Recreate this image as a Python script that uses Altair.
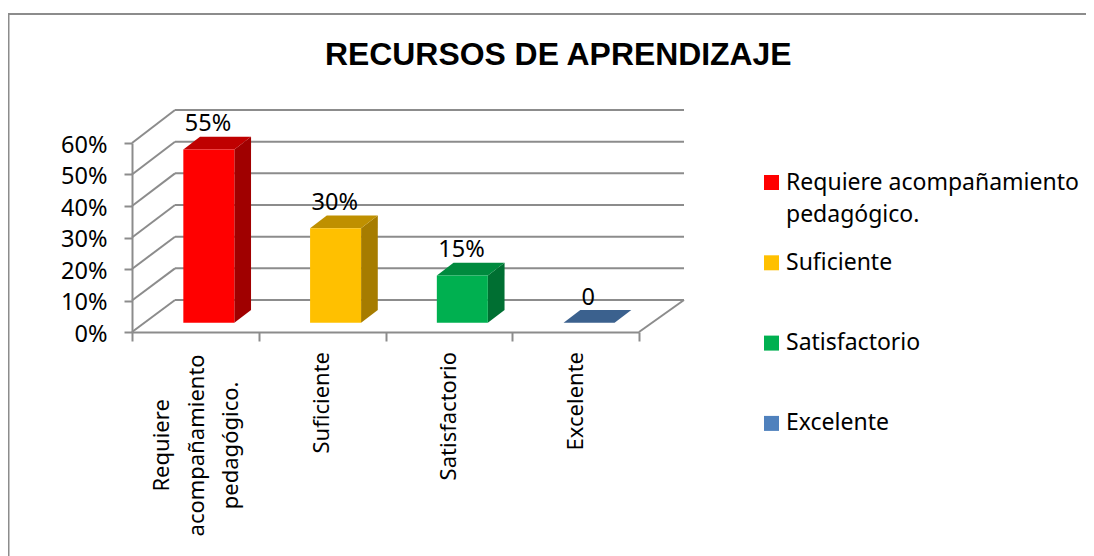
import altair as alt
import pandas as pd

categories = ["Requiere acompañamiento pedagógico.", "Suficiente", "Satisfactorio", "Excelente"]
values = [0.55, 0.30, 0.15, 0.0]
value_labels = ["55%", "30%", "15%", "0"]
front_colors = ["#FF0000", "#FFC000", "#00B050", "#4F81BD"]
side_colors = ["#A00000", "#A67C00", "#006F32", "#2F4D71"]
top_colors = ["#BF0000", "#BF9000", "#008A3E", "#3B618E"]
grid_values = [0, 0.1, 0.2, 0.3, 0.4, 0.5, 0.6]
axis_lines = [
    ["Requiere", "acompañamiento", "pedagógico."],
    ["Suficiente"],
    ["Satisfactorio"],
    ["Excelente"],
]

UX = 126.75   # px per category
UY = 315.0    # px per 1.0 of share
WALL_DX = 43 / UX
WALL_DX_R = 45 / UX
WALL_DY = 32 / UY
BAR_LEFT = 0.405
BAR_W = 51 / UX
BAR_FLOOR = 9.3 / UY
BAR_DX = 16.7 / UX
BAR_DY = 12.7 / UY
FONT = "Noto Sans"
TXT = 22
TXT_VAL = 23.5
TXT_LEG = 23
GREY = "#8C8C8C"

xs = alt.Scale(domain=[0, 4], nice=False, zero=False)
ys = alt.Scale(domain=[0, 0.6], nice=False, zero=False)
X = alt.X("x:Q", scale=xs, axis=alt.Axis(values=[0, 1, 2, 3, 4], labels=False, title=None, grid=False,
                                         tickColor=GREY, domainColor=GREY, tickWidth=2, domainWidth=2, tickSize=9))
Y = alt.Y("y:Q", scale=ys, axis=alt.Axis(values=grid_values, format=".0%", title=None, grid=False,
                                         tickColor=GREY, domainColor=GREY, tickWidth=2, domainWidth=2, tickSize=8,
                                         labelFont=FONT, labelFontSize=TXT_VAL, labelColor="black", labelPadding=17,
                                         labelOffset=2))

# walls
back = pd.DataFrame({"x": [WALL_DX] * 7, "x2": [4 + WALL_DX_R] * 7, "y": [v * 1.005 + WALL_DY for v in grid_values]})
grid = alt.Chart(back).mark_rule(color=GREY, strokeWidth=2).encode(x=X, x2="x2:Q", y=Y)
diag = pd.DataFrame(
    [{"g": v, "x": 0, "y": v} for v in grid_values]
    + [{"g": v, "x": WALL_DX, "y": v * 1.005 + WALL_DY} for v in grid_values]
)
diagonals = alt.Chart(diag).mark_line(color=GREY, strokeWidth=2).encode(x=X, y=Y, detail="g:N")
floor = alt.Chart(pd.DataFrame({"x": [4, 4 + WALL_DX_R], "y": [0, WALL_DY]})).mark_line(color=GREY, strokeWidth=2).encode(x=X, y=Y)

# bars
front_rows, side_rows, top_rows = [], [], []
for i, (c, v) in enumerate(zip(categories, values)):
    l, r = i + BAR_LEFT, i + BAR_LEFT + BAR_W
    b, t = BAR_FLOOR, BAR_FLOOR + v
    front_rows.append({"c": c, "x": l, "x2": r, "y": b, "y2": t})
    if v > 0:
        side_rows += [
            {"g": i, "f": side_colors[i], "x": r, "y": b, "y2": t},
            {"g": i, "f": side_colors[i], "x": r + BAR_DX, "y": b + BAR_DY, "y2": t + BAR_DY},
        ]
    top_rows += [
        {"g": i, "f": top_colors[i], "x": l, "y": t, "y2": t},
        {"g": i, "f": top_colors[i], "x": l + BAR_DX, "y": t, "y2": t + BAR_DY},
        {"g": i, "f": top_colors[i], "x": r, "y": t, "y2": t + BAR_DY},
        {"g": i, "f": top_colors[i], "x": r + BAR_DX, "y": t + BAR_DY, "y2": t + BAR_DY},
    ]

front = alt.Chart(pd.DataFrame(front_rows)).mark_rect().encode(
    x=X, x2="x2:Q", y=Y, y2="y2:Q",
    color=alt.Color("c:N", sort=categories,
                    scale=alt.Scale(domain=categories, range=front_colors),
                    legend=alt.Legend(title=None, orient="none", legendX=628, legendY=28,
                                      symbolType="square", symbolSize=225, symbolStrokeWidth=0,
                                      labelFont=FONT, labelFontSize=TXT_LEG, labelColor="black", labelOffset=3,
                                      labelLimit=320, rowPadding=24.3, gridAlign="all", symbolOpacity=1,
                                      labelExpr="datum.label == 'Requiere acompañamiento pedagógico.' ? ['Requiere acompañamiento', 'pedagógico.'] : datum.label")),
)
side = alt.Chart(pd.DataFrame(side_rows)).mark_area().encode(
    x=X, y=Y, y2="y2:Q", detail="g:N", color=alt.Color("f:N", scale=None))
top = alt.Chart(pd.DataFrame(top_rows)).mark_area().encode(
    x=X, y=Y, y2="y2:Q", detail="g:N", color=alt.Color("f:N", scale=None))

# value labels
lab = pd.DataFrame({"x": [i + 0.6 for i in range(4)], "y": [v + 0.087 for v in values], "t": value_labels})
labels = alt.Chart(lab).mark_text(font=FONT, fontSize=TXT_VAL, color="black", align="center", baseline="alphabetic").encode(
    x=X, y=Y, text="t:N")

# category labels, rotated below the axis
multi = pd.DataFrame({"x": [0.24], "y": [-0.36], "t": ["\n".join(axis_lines[0])]})
multi_text = alt.Chart(multi).mark_text(font=FONT, fontSize=TXT, color="black", angle=270, align="center",
                                        baseline="middle", lineBreak="\n", lineHeight=34.5).encode(x=X, y=Y, text="t:N")
single = pd.DataFrame({"x": [1.5, 2.5, 3.5], "y": [-0.0635] * 3, "t": [a[0] for a in axis_lines[1:]]})
single_text = alt.Chart(single).mark_text(font=FONT, fontSize=TXT, color="black", angle=270, align="right",
                                          baseline="middle").encode(x=X, y=Y, text="t:N")

# chart frame
frame_top = alt.Chart(pd.DataFrame({"k": [0]})).mark_rule(color=GREY, strokeWidth=2).encode(
    x=alt.value(-124), x2=alt.value(954), y=alt.value(-129))
frame_left = alt.Chart(pd.DataFrame({"k": [0]})).mark_rule(color=GREY, strokeWidth=2).encode(
    x=alt.value(-123.5), y=alt.value(-130), y2=alt.value(413))

chart = alt.layer(
    frame_top, frame_left, grid, diagonals, floor, side, top, front, labels, multi_text, single_text
).properties(
    width=507, height=189,
    padding={"left": 124, "top": 135, "right": 447, "bottom": 224},
    autosize="none",
    title=alt.TitleParams("RECURSOS DE APRENDIZAJE", font="Liberation Sans", fontSize=31.9, fontWeight="bold",
                          color="black", anchor="start", dx=318, offset=-60),
).configure(style={"guide-label": {"lineHeight": 32}}).configure_view(stroke=None).resolve_scale(color="independent")

chart.save("out.html", embed_options={"renderer": "svg", "actions": False})
